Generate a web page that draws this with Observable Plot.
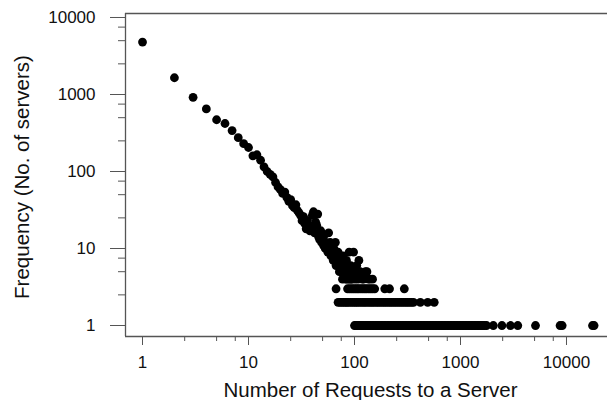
<!DOCTYPE html>
<html>
<head>
<meta charset="utf-8">
<script src="https://cdn.jsdelivr.net/npm/d3@7"></script>
<script src="https://cdn.jsdelivr.net/npm/@observablehq/plot@0.6"></script>
<style>
  html, body { margin: 0; padding: 0; background: #fff; }
  svg { display: block; }
</style>
</head>
<body>
<div id="chart"></div>
<script>
// Main power-law curve: number of requests -> number of servers
const curveRequests = [
  1, 2, 3, 4, 5, 6, 7, 8, 9, 10, 11, 12, 13, 14, 15, 16, 17, 18, 19, 20,
  21, 22, 23, 24, 25, 26, 27, 28, 29, 30, 31, 32, 33, 34, 35, 36, 37, 38, 39, 40,
  41, 42, 43, 44, 45, 46, 47, 48, 49, 50, 51, 52, 53, 54, 55, 56, 57, 58, 59, 60,
  61, 62, 63, 64, 65, 66, 67, 68, 69, 70, 71, 72, 73, 74, 75, 76, 77, 78, 79, 80,
  81, 82, 83, 84, 85, 86, 87, 88, 89, 90, 91, 92, 93, 94, 96, 98, 100, 102, 105, 108,
  110, 113, 118, 122, 127, 131, 135, 140, 148
];
const curveServers = [
  4800, 1650, 920, 650, 470, 420, 340, 275, 230, 205, 160, 165, 140, 115, 100, 92, 85, 72, 63, 58,
  52, 54, 46, 41, 43, 36, 34, 37, 31, 29, 27, 23, 26, 21, 18, 23, 20, 17, 19, 27,
  30, 16, 22, 20, 28, 14, 13, 17, 12, 14, 11, 15, 10, 12, 10, 9, 16, 9, 12, 8,
  9, 11, 7, 10, 8, 12, 6, 8, 7, 9, 6, 5, 7, 8, 5, 6, 4, 8, 7, 5,
  6, 4, 5, 7, 4, 6, 5, 4, 9, 5, 4, 6, 4, 5, 4, 9, 5, 4, 6, 4,
  7, 5, 4, 4, 5, 5, 4, 4, 4
];
// Request counts shared by exactly 3, 2 or 1 server(s)
const row3Requests = [67, 86, 90, 94, 98, 102, 106, 110, 115, 120, 125, 130, 136, 142, 148, 155, 193, 214, 295];
const row2Requests = [
  70, 73, 76, 79, 82, 85, 88, 92, 96, 100, 104, 108, 113, 118, 123, 128, 134, 140, 146, 152,
  159, 166, 173, 181, 189, 197, 206, 215, 224, 234, 244, 255, 266, 278, 290, 303, 316, 330, 345, 360,
  418, 490, 565
];
const row1Requests = [
  100, 103, 106, 109, 112, 115, 118, 122, 126, 130, 134, 138, 142, 147, 152, 157, 162, 167, 172, 178,
  184, 190, 196, 203, 210, 217, 224, 231, 239, 247, 255, 263, 272, 281, 290, 300, 310, 320, 331, 342,
  353, 365, 377, 390, 403, 416, 430, 444, 459, 474, 490, 506, 523, 540, 558, 577, 596, 616, 636, 657,
  679, 701, 724, 748, 773, 799, 825, 852, 880, 909, 939, 970, 1002, 1035, 1070, 1105, 1142, 1180, 1220, 1260,
  1300, 1345, 1390, 1435, 1480, 1530, 1580, 1630, 1690, 1760, 2040, 2460, 2960, 3470, 5100, 8700, 9100, 17600, 18200
];

// Axis tick values and labels
const majorTicks = [1, 10, 100, 1000, 10000];
const minorTicks = [2.5, 5, 7.5, 25, 50, 75, 250, 500, 750, 2500, 5000, 7500];
const xDomain = [0.691, 24370];
const yDomain = [0.72, 11270];
const xTitle = "Number of Requests to a Server";
const yTitle = "Frequency (No. of servers)";

const points = [
  ...curveRequests.map((x, i) => ({x, y: curveServers[i]})),
  ...row3Requests.map(x => ({x, y: 3})),
  ...row2Requests.map(x => ({x, y: 2})),
  ...row1Requests.map(x => ({x, y: 1}))
];

const axisColor = "#555";
const font = "Liberation Sans, Arial, Helvetica, sans-serif";

const chart = Plot.plot({
  width: 607,
  height: 400,
  marginLeft: 125,
  marginRight: 0,
  marginTop: 13,
  marginBottom: 64,
  style: {fontFamily: font, background: "#fff", color: "#111"},
  x: {type: "log", domain: xDomain},
  y: {type: "log", domain: yDomain},
  marks: [
    Plot.ruleX([xDomain[0]], {stroke: axisColor, strokeWidth: 1.3}),
    Plot.ruleY([yDomain[0]], {stroke: axisColor, strokeWidth: 1.3}),
    Plot.ruleY([yDomain[1]], {stroke: axisColor, strokeWidth: 1.3}),
    Plot.axisX(majorTicks, {tickSize: 9, tickPadding: 10, tickFormat: d => String(d), fontSize: 17, stroke: axisColor, fill: "#111", label: null}),
    Plot.axisX(minorTicks, {tickSize: 5, tickFormat: null, stroke: axisColor, label: null}),
    Plot.axisY(majorTicks, {tickSize: 15, tickPadding: 15, tickFormat: d => String(d), fontSize: 17, stroke: axisColor, fill: "#111", label: null}),
    Plot.axisY(minorTicks, {tickSize: 7, tickFormat: null, stroke: axisColor, label: null}),
    Plot.dot(points, {x: "x", y: "y", r: 4.4, fill: "#000", stroke: null}),
    Plot.text([xTitle], {frameAnchor: "bottom", textAnchor: "middle", lineAnchor: "bottom", dy: 60, dx: 4, fontSize: 20.5, fill: "#111", text: d => d}),
    Plot.text([yTitle], {frameAnchor: "left", textAnchor: "middle", lineAnchor: "bottom", rotate: -90, dx: -97, dy: 2, fontSize: 20.5, fill: "#111", text: d => d})
  ]
});
document.getElementById("chart").appendChild(chart);
</script>
</body>
</html>
